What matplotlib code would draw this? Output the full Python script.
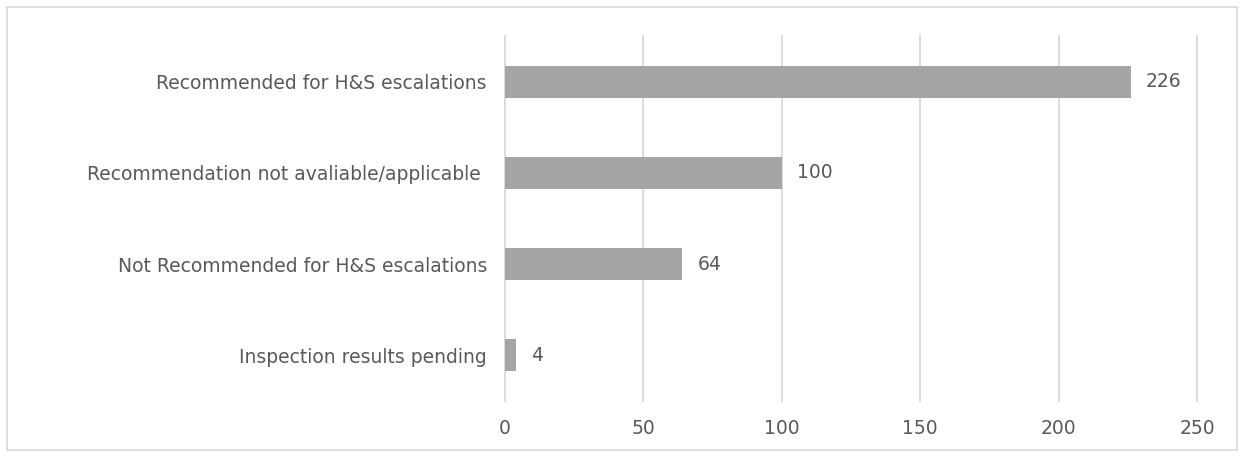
import matplotlib
matplotlib.use("Agg")
import matplotlib.pyplot as plt
import matplotlib.patches as patches

# data (top to bottom as shown)
categories = ["Recommended for H&S escalations",
              "Recommendation not avaliable/applicable ",
              "Not Recommended for H&S escalations",
              "Inspection results pending"]
values = [226, 100, 64, 4]
xticks = [0, 50, 100, 150, 200, 250]

text_color = "#595959"
grid_color = "#D9D9D9"
bar_color = "#A5A5A5"

plt.rcParams['font.family'] = ['DejaVu Sans']

fig = plt.figure(figsize=(12.44, 4.57), dpi=100)
ax = fig.add_axes([505 / 1244, 1 - 401 / 457, 692 / 1244, 365 / 457])

# outer border of the chart area
border = patches.Rectangle((7 / 1244, 7 / 457), 1230 / 1244, 443 / 457,
                           transform=fig.transFigure, fill=False,
                           edgecolor=grid_color, linewidth=1.2)
fig.patches.append(border)

fs = 13.5
ypos = list(range(len(categories)))
ax.barh(ypos, values, height=0.35, color=bar_color, zorder=3)
for y, v in zip(ypos, values):
    ax.text(v + 5.5, y, str(v), va='center', ha='left',
            fontsize=fs, color=text_color)

ax.set_xlim(0, 250)
ax.set_ylim(len(categories) - 0.5, -0.5)
ax.set_yticks(ypos)
ax.set_yticklabels(categories, fontsize=fs, color=text_color)
ax.set_xticks(xticks)
ax.set_xticklabels([str(t) for t in xticks], fontsize=fs, color=text_color)
ax.tick_params(axis='both', length=0)
ax.tick_params(axis='y', pad=13)
ax.tick_params(axis='x', pad=13)
ax.grid(axis='x', color=grid_color, linewidth=1.3, zorder=0)
for gl in ax.get_xgridlines():
    gl.set_clip_on(False)
for s in ax.spines.values():
    s.set_visible(False)

fig.savefig("out.png", dpi=100)
